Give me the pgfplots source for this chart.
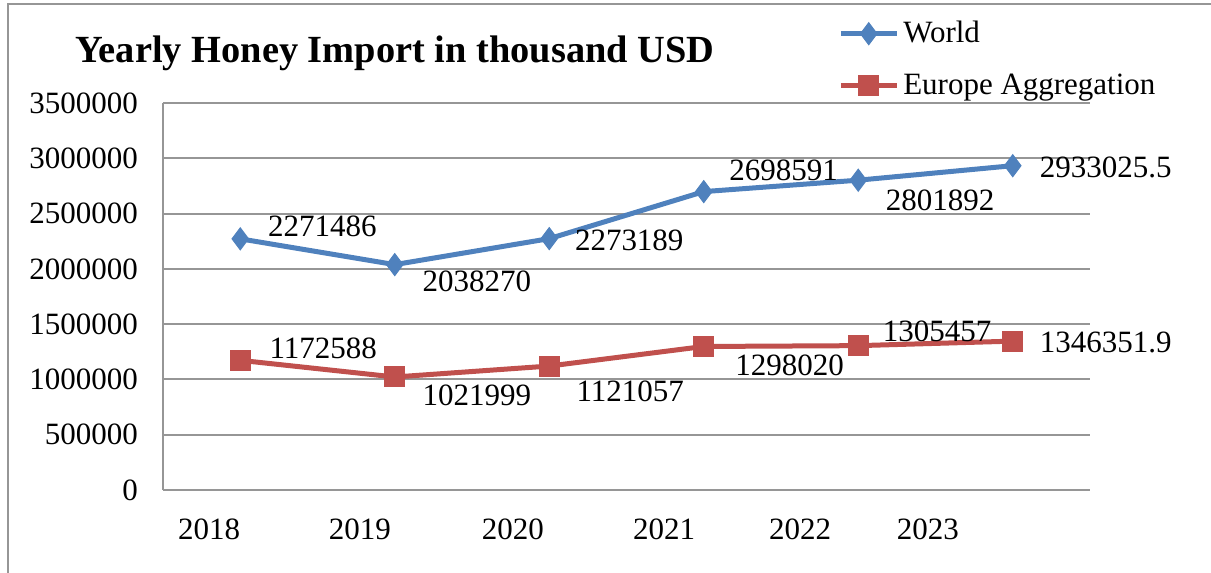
\documentclass[border=0pt]{standalone}
\usepackage{pgfplots}
\pgfplotsset{compat=1.18}
\usepackage{pgfplotstable}
\usepackage{fontspec}
\setmainfont{Liberation Serif}
\definecolor{wblue}{HTML}{4F81BD}
\definecolor{ered}{HTML}{C0504D}
\definecolor{gridgray}{HTML}{969696}

\pgfplotstableread{
x y dx dy lab
0 2271486 41 6 2271486
1 2038270 41 -8.5 2038270
2 2273189 40 -1 2273189
3 2698591 40 10.5 2698591
4 2801892 41 -10 2801892
5 2933025.5 46.5 -1 2933025.5
}\world
\pgfplotstableread{
x y dx dy lab
0 1172588 41.5 6 1172588
1 1021999 41 -9 1021999
2 1121057 40.5 -12.5 1121057
3 1298020 43 -9.5 1298020
4 1305457 39.5 7 1305457
5 1346351.9 46.5 -0.5 1346351.9
}\europe

\begin{document}
\begin{tikzpicture}
\useasboundingbox (0,0) rectangle (605.5pt,286.5pt);
\draw[gridgray, line width=1pt] (4pt,0) -- (4pt,284.5pt) -- (605.5pt,284.5pt);
\node[anchor=base west, inner sep=0pt, font=\bfseries\fontsize{19.2}{21}\selectfont] at (37.5pt,255pt) {Yearly Honey Import in thousand USD};
\begin{axis}[
  at={(81.5pt,41.5pt)}, anchor=south west,
  width=463.5pt, height=193.5pt, scale only axis,
  clip=false,
  xmin=-0.5, xmax=5.5, ymin=0, ymax=3500000,
  scaled y ticks=false,
  axis lines*=left,
  axis line style={gridgray, line width=1pt, -},
  ymajorgrids, grid style={gridgray, line width=1pt},
  major tick length=0pt,
  ytick={0,500000,1000000,1500000,2000000,2500000,3000000,3500000},
  yticklabels={0,500000,1000000,1500000,2000000,2500000,3000000,3500000},
  xtick={-0.202,0.775,1.765,2.743,3.623,4.451},
  xticklabels={2018,2019,2020,2021,2022,2023},
  tick label style={font=\fontsize{15.5}{18}\selectfont},
  yticklabel style={xshift=-9pt},
  xticklabel style={yshift=-11pt},
  legend style={at={(0.728,1.222)}, anchor=north west, draw=none, fill=none,
    font=\fontsize{15.5}{18}\selectfont, row sep=10pt, inner sep=0pt},
  legend cell align=left,
  legend image code/.code={\draw[mark repeat=2,mark phase=2] plot coordinates {(0pt,0pt) (14pt,0pt) (28pt,0pt)};},
  nodes near coords={\pgfplotspointmeta},
  point meta=explicit symbolic,
  visualization depends on={\thisrow{dx} \as \dx},
  visualization depends on={\thisrow{dy} \as \dy},
  nodes near coords style={anchor=center, xshift=\dx pt, yshift=\dy pt, inner sep=0pt,
    font=\fontsize{15.5}{18}\selectfont, text=black},
]
\addplot[wblue, line width=2.5pt, mark=diamond*, mark size=5.5pt, mark options={fill=wblue, draw=wblue, line width=0.5pt}]
  table[x=x, y=y, meta=lab] {\world};
\addlegendentry{World}
\addplot[ered, line width=2.5pt, mark=square*, mark size=5pt, mark options={fill=ered, draw=ered, line width=0.5pt}]
  table[x=x, y=y, meta=lab] {\europe};
\addlegendentry{Europe Aggregation}
\end{axis}
\end{tikzpicture}
\end{document}
